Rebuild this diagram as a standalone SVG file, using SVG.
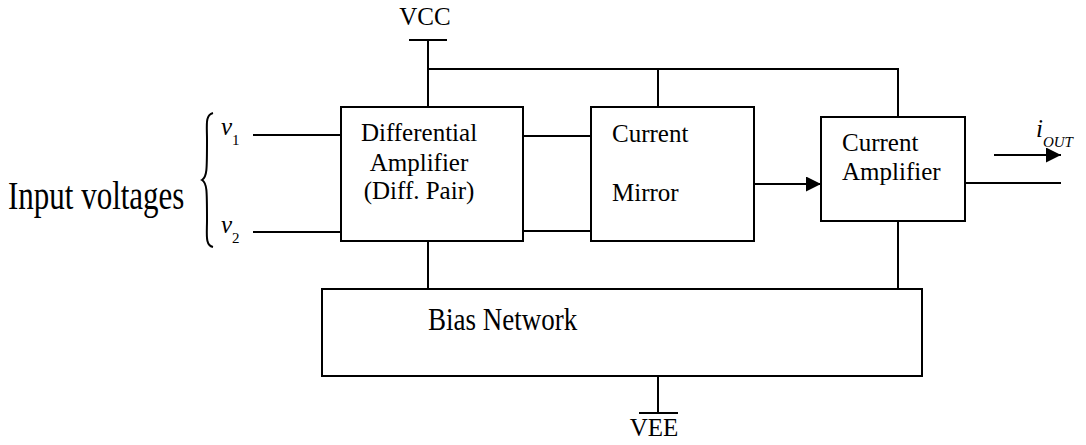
<svg xmlns="http://www.w3.org/2000/svg" width="1086" height="445" viewBox="0 0 1086 445">
<style>
.box{fill:#fff;stroke:#000;stroke-width:2}
.w{fill:none;stroke:#000;stroke-width:2}
.t{font-family:"Liberation Serif","Times New Roman",serif;font-size:25px;fill:#000}
.i{font-style:italic}
.big{font-size:31px}
.bias{font-size:27px}
</style>
<defs>
<marker id="ah" viewBox="0 0 15 15" refX="15" refY="7.5" markerWidth="15" markerHeight="15" markerUnits="userSpaceOnUse" orient="auto">
<path d="M0,0 L15,7.5 L0,15 Z" fill="#000"/>
</marker>
</defs>
<g id="connectors">
<path class="w" d="M409,40 H447 M428,40 V107 M428,69 H898 V117 M658,69 V107"/>
<path class="w" d="M253,135 H341 M253,232 H341 M523,136 H591 M523,231 H591"/>
<path class="w" d="M428,241 V289 M898,221 V289 M658,376 V413 M639,413 H678"/>
<path class="w" d="M754,184 H821" marker-end="url(#ah)"/>
<path class="w" d="M965,183 H1061"/>
<path class="w" d="M994,155 H1061" marker-end="url(#ah)"/>
<path class="w" stroke-width="1.5" d="M213,113 C205,115 207,125 207,140 C207,170 207,177 202,180 C207,183 207,190 207,220 C207,235 205,245 213,247"/>
</g>
<g id="vcc"><text class="t" x="425" y="25" text-anchor="middle">VCC</text></g>
<g id="vee"><text class="t" x="654" y="436" text-anchor="middle">VEE</text></g>
<g id="inputs">
<text class="t big" transform="translate(8,209) scale(1,1.3)">Input voltages</text>
<text class="t i" x="221" y="135">v<tspan style="font-size:15px;font-style:normal" dy="10">1</tspan></text>
<text class="t i" x="221" y="233">v<tspan style="font-size:15px;font-style:normal" dy="10">2</tspan></text>
</g>
<g id="diffamp">
<rect class="box" x="341" y="107" width="182" height="134"/>
<text class="t" x="419" y="141" text-anchor="middle">Differential</text>
<text class="t" x="419" y="171" text-anchor="middle">Amplifier</text>
<text class="t" x="419" y="199" text-anchor="middle">(Diff. Pair)</text>
</g>
<g id="mirror">
<rect class="box" x="591" y="107" width="163" height="134"/>
<text class="t" x="612" y="142">Current</text>
<text class="t" x="612" y="201">Mirror</text>
</g>
<g id="curamp">
<rect class="box" x="821" y="117" width="144" height="104"/>
<text class="t" x="842" y="151">Current</text>
<text class="t" x="842" y="180">Amplifier</text>
</g>
<g id="iout">
<text class="t i" x="1036" y="137">i<tspan style="font-size:15px" dy="10">OUT</tspan></text>
</g>
<g id="bias">
<rect class="box" x="322" y="289" width="600" height="87"/>
<text class="t bias" transform="translate(428,330) scale(1,1.2)">Bias Network</text>
</g>
</svg>
